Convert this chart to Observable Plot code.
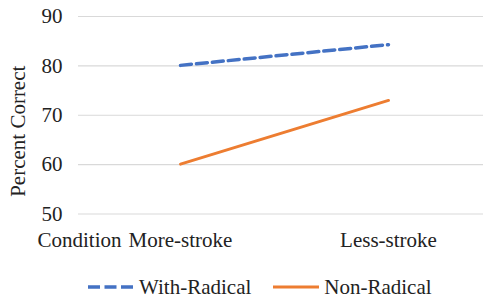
<!DOCTYPE html>
<html>
<head>
<meta charset="utf-8">
<script src="https://cdn.jsdelivr.net/npm/d3@7"></script>
<script src="https://cdn.jsdelivr.net/npm/@observablehq/plot@0.6"></script>
<style>
  html, body { margin: 0; padding: 0; background: #fff; }
  #chart { width: 483px; height: 299px; overflow: hidden; font-family: 'Liberation Serif', 'Times New Roman', Times, 'DejaVu Serif', serif; }
  .legend { display: flex; justify-content: flex-start; align-items: center; height: 34px; margin-top: 5px; font-size: 21px; color: #222; padding-left: 88px; box-sizing: border-box; }
  .legend .item { display: flex; align-items: center; }
  .legend svg { display: block; margin-right: 5px; }
</style>
</head>
<body>
<div id="chart"></div>
<script>
const conditions = ["More-stroke", "Less-stroke"];
const seriesNames = ["With-Radical", "Non-Radical"];
const withRadical = [80.1, 84.3];
const nonRadical = [60.1, 73.0];
const yTicks = [50, 60, 70, 80, 90];
const colors = ["#4472C4", "#ED7D31"];

const rows = [];
conditions.forEach((c, i) => {
  rows.push({condition: c, series: seriesNames[0], value: withRadical[i]});
  rows.push({condition: c, series: seriesNames[1], value: nonRadical[i]});
});

const font = "'Liberation Serif', 'Times New Roman', Times, 'DejaVu Serif', serif";

const plot = Plot.plot({
  width: 483,
  height: 265,
  marginTop: 16,
  marginBottom: 51.5,
  marginLeft: 78,
  marginRight: 0,
  style: {fontFamily: font, fontSize: "21px", color: "#222", background: "#fff"},
  x: {type: "point", domain: conditions, range: [180, 388], padding: 0},
  y: {domain: [50, 90], ticks: yTicks},
  marks: [
    Plot.ruleY(yTicks, {stroke: "#d9d9d9", strokeWidth: 1.2}),
    Plot.axisY({ticks: yTicks, tickSize: 0, tickPadding: 16, label: null, fontSize: 21, fontFamily: font}),
    Plot.axisX({tickSize: 0, tickPadding: 18, label: null, fontSize: 21, fontFamily: font}),
    Plot.text(["Condition"], {frameAnchor: "bottom-left", dx: -41, dy: 18, textAnchor: "start", lineAnchor: "top", fontSize: 21, fontFamily: font}),
    Plot.text(["Percent Correct"], {frameAnchor: "left", dx: -60, dy: 16, rotate: -90, textAnchor: "middle", fontSize: 21, fontFamily: font}),
    Plot.line(rows.filter(d => d.series === seriesNames[1]), {x: "condition", y: "value", stroke: colors[1], strokeWidth: 3}),
    Plot.line(rows.filter(d => d.series === seriesNames[0]), {x: "condition", y: "value", stroke: colors[0], strokeWidth: 3.5, strokeDasharray: "11,5"})
  ]
});

const chart = document.getElementById("chart");
chart.appendChild(plot);

const legend = document.createElement("div");
legend.className = "legend";
seriesNames.forEach((name, i) => {
  const item = document.createElement("div");
  item.className = "item";
  if (i > 0) item.style.marginLeft = "22px";
  const sw = i === 0
    ? `<svg width="46" height="8"><line x1="0" y1="4" x2="46" y2="4" stroke="${colors[0]}" stroke-width="3.5" stroke-dasharray="12,4.5"/></svg>`
    : `<svg width="46" height="8"><line x1="0" y1="4" x2="46" y2="4" stroke="${colors[1]}" stroke-width="3"/></svg>`;
  item.innerHTML = sw + `<span>${name}</span>`;
  legend.appendChild(item);
});
chart.appendChild(legend);
</script>
</body>
</html>
